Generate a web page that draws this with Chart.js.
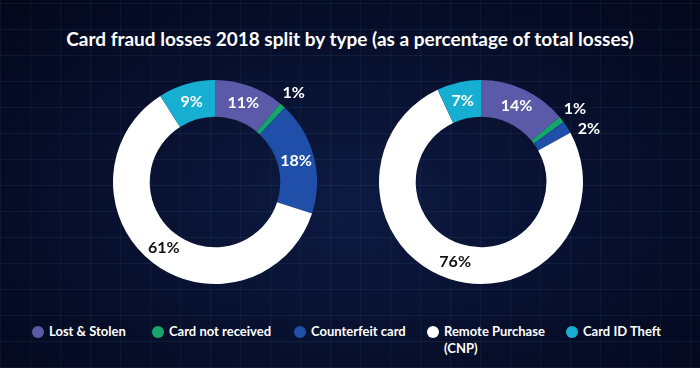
<!DOCTYPE html>
<html>
<head>
<meta charset="utf-8">
<script src="https://cdn.jsdelivr.net/npm/chart.js@4.4.0/dist/chart.umd.min.js"></script>
<style>
  html, body {
    margin: 0;
    padding: 0;
  }
  body {
    width: 700px;
    height: 368px;
    overflow: hidden;
    position: relative;
    font-family: "Lato", "Open Sans", sans-serif;
    background-color: #060b24;
    background-image:
      repeating-linear-gradient(0deg, rgba(70, 130, 160, 0.12) 0 1px, transparent 1px 26px),
      repeating-linear-gradient(90deg, rgba(70, 130, 160, 0.10) 0 1px, transparent 1px 30px),
      radial-gradient(ellipse at 50% 55%, #0d1a42 0%, #070f2c 55%, #030719 100%);
  }
  #title {
    position: absolute;
    top: 27px;
    left: 0;
    width: 700px;
    text-align: center;
    color: #ffffff;
    font-weight: bold;
    font-size: 19px;
  }
  .donut {
    position: absolute;
    top: 52px;
    width: 260px;
    height: 260px;
  }
  #donutLeft { left: 85px; }
  #donutRight { left: 351px; }
  #legend {
    position: absolute;
    top: 323px;
    left: 0;
    width: 700px;
    color: #ffffff;
    font-weight: bold;
    font-size: 13px;
  }
  .legend-item {
    position: absolute;
    top: 0;
    line-height: 17px;
  }
  .legend-item .dot {
    position: absolute;
    left: -17px;
    top: 3px;
    width: 12px;
    height: 12px;
    border-radius: 50%;
  }
</style>
</head>
<body>
<div id="title">Card fraud losses 2018 split by type (as a percentage of total losses)</div>
<div class="donut" id="donutLeft"><canvas id="chartLeft" width="260" height="260"></canvas></div>
<div class="donut" id="donutRight"><canvas id="chartRight" width="260" height="260"></canvas></div>
<div id="legend"></div>

<script>
// ---------------------------------------------------------------- data
const fraudTypes = [
  "Lost & Stolen",
  "Card not received",
  "Counterfeit card",
  "Remote Purchase (CNP)",
  "Card ID Theft",
];
const leftShares = [11, 1, 18, 61, 9];
const rightShares = [14, 1, 2, 76, 7];
const typeColors = ["#5a5aa8", "#14a66c", "#1f4fa8", "#ffffff", "#16afd2"];

// legend x-positions (text start) for each type
const legendX = [49, 169, 311, 444, 583];

// ---------------------------------------------------------------- label plugin
const percentLabels = {
  id: "percentLabels",
  afterDatasetsDraw(chart) {
    const ctx = chart.ctx;
    const meta = chart.getDatasetMeta(0);
    const values = chart.data.datasets[0].data;
    let lastOutside = null;

    ctx.save();
    ctx.textAlign = "center";
    ctx.textBaseline = "middle";
    ctx.font = "bold 16px Lato, 'Open Sans', sans-serif";

    meta.data.forEach((arc, i) => {
      const p = arc.getProps(["x", "y", "startAngle", "endAngle", "innerRadius", "outerRadius"], true);
      const mid = (p.startAngle + p.endAngle) / 2;
      const text = values[i] + "%";
      let r, colour;

      if (values[i] >= 5) {
        r = (p.innerRadius + p.outerRadius) / 2;
        colour = typeColors[i] === "#ffffff" ? "#111111" : "#ffffff";
      } else {
        r = p.outerRadius + 17;
        colour = "#ffffff";
      }

      let lx = p.x + Math.cos(mid) * r;
      let ly = p.y + Math.sin(mid) * r;

      if (values[i] < 5) {
        // keep small neighbouring labels apart
        if (lastOutside && ly - lastOutside.y < 20) {
          ly = lastOutside.y + 20;
          lx = lastOutside.x + 14;
        }
        lastOutside = { x: lx, y: ly };
      }

      ctx.fillStyle = colour;
      ctx.fillText(text, lx, ly);
    });
    ctx.restore();
  },
};

// ---------------------------------------------------------------- charts
function buildDonut(canvasId, shares) {
  const config = {
    type: "doughnut",
    data: {
      labels: fraudTypes,
      datasets: [
        {
          data: shares,
          backgroundColor: typeColors,
          borderWidth: 0,
        },
      ],
    },
    options: {
      responsive: false,
      animation: false,
      cutout: "64%",
      layout: { padding: 28 },
      plugins: {
        legend: { display: false },
        tooltip: { enabled: false },
      },
    },
    plugins: [percentLabels],
  };
  return new Chart(document.getElementById(canvasId), config);
}

buildDonut("chartLeft", leftShares);
buildDonut("chartRight", rightShares);

// ---------------------------------------------------------------- legend
const legendEl = document.getElementById("legend");
fraudTypes.forEach((name, i) => {
  const item = document.createElement("div");
  item.className = "legend-item";
  item.style.left = legendX[i] + "px";
  const dot = document.createElement("span");
  dot.className = "dot";
  dot.style.background = typeColors[i];
  item.appendChild(dot);
  const label = document.createElement("span");
  // the CNP label wraps onto a second line in the original
  label.innerHTML = name === "Remote Purchase (CNP)" ? "Remote Purchase<br>(CNP)" : name;
  item.appendChild(label);
  legendEl.appendChild(item);
});
</script>
</body>
</html>
